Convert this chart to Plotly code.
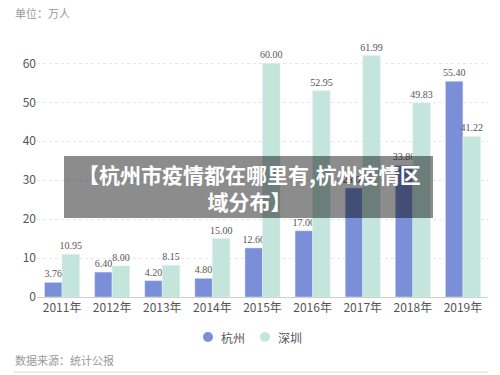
import plotly.graph_objects as go

years = ["2011年", "2012年", "2013年", "2014年", "2015年", "2016年", "2017年", "2018年", "2019年"]
hangzhou = [3.76, 6.40, 4.20, 4.80, 12.60, 17.00, 28.00, 33.80, 55.40]
shenzhen = [10.95, 8.00, 8.15, 15.00, 60.00, 52.95, 61.99, 49.83, 41.22]
series_names = ["杭州", "深圳"]
y_ticks = [0, 10, 20, 30, 40, 50, 60]

C_HZ = "#7b8ed8"
C_SZ = "#c4e5dc"
CJK = "Noto Sans CJK SC"

W, H = 500, 375
L, R, T, B = 37, 12, 40, 78
pw, ph = W - L - R, H - T - B

def px(x):
    return (x - L) / pw

def py(y):
    return (H - B - y) / ph

fig = go.Figure()
for name, vals, col in [(series_names[0], hangzhou, C_HZ), (series_names[1], shenzhen, C_SZ)]:
    fig.add_trace(go.Bar(
        x=years, y=vals, name=name, marker_color=col, showlegend=False,
        text=[f"{v:.2f}" for v in vals], textposition="outside",
        textfont=dict(family="Liberation Serif", size=10, color="#555"),
        constraintext="none", cliponaxis=False,
    ))

shapes = [
    dict(type="rect", xref="paper", yref="paper", x0=px(64), x1=px(433), y0=py(218), y1=py(156),
         fillcolor="rgba(0,0,0,0.45)", line=dict(width=0), layer="above"),
    dict(type="line", xref="paper", yref="paper", x0=px(13), x1=px(488), y0=py(372), y1=py(372),
         line=dict(color="#dddddd", width=1)),
]
annotations = [
    dict(text="单位：万人", xref="paper", yref="paper", x=px(13), y=py(13), xanchor="left",
         yanchor="middle", showarrow=False, font=dict(family=CJK, size=11, color="#999")),
    dict(text="数据来源：统计公报", xref="paper", yref="paper", x=px(13), y=py(360), xanchor="left",
         yanchor="middle", showarrow=False, font=dict(family=CJK, size=11, color="#999")),
    dict(text="<b>【杭州市疫情都在哪里有,杭州疫情区<br>域分布】</b>", xref="paper", yref="paper",
         x=px(249), y=py(187), xanchor="center", yanchor="middle", showarrow=False,
         font=dict(family=CJK, size=21, color="white"), align="center"),
]
for i, (name, col) in enumerate([(series_names[0], C_HZ), (series_names[1], C_SZ)]):
    cx = 208 + i * 57
    cy = 337
    shapes.append(dict(type="circle", xref="paper", yref="paper",
                       x0=px(cx - 5), x1=px(cx + 5), y0=py(cy + 5), y1=py(cy - 5),
                       fillcolor=col, line=dict(width=0)))
    annotations.append(dict(text=name, xref="paper", yref="paper", x=px(cx + 11), y=py(cy),
                            xanchor="left", yanchor="middle", showarrow=False,
                            font=dict(family=CJK, size=12, color="#555")))

fig.update_layout(
    width=W, height=H,
    margin=dict(l=L, r=R, t=T, b=B, autoexpand=False),
    paper_bgcolor="white", plot_bgcolor="white",
    barmode="group", bargap=0.3, bargroupgap=0,
    font=dict(family=CJK, color="#555"),
    showlegend=False,
    xaxis=dict(showgrid=False, showline=True, linecolor="#d0d0d0", linewidth=1,
               ticks="", tickfont=dict(family=CJK, size=12, color="#555")),
    yaxis=dict(range=[0, 66], tickvals=y_ticks, showgrid=True, gridcolor="#e6e6e6",
               griddash="dot", zeroline=False, showline=False, ticks="",
               tickfont=dict(family=CJK, size=12, color="#555")),
    shapes=shapes,
    annotations=annotations,
)

fig.write_html("out.html", config={"displayModeBar": False},
               post_script="document.body.style.margin='0';")
